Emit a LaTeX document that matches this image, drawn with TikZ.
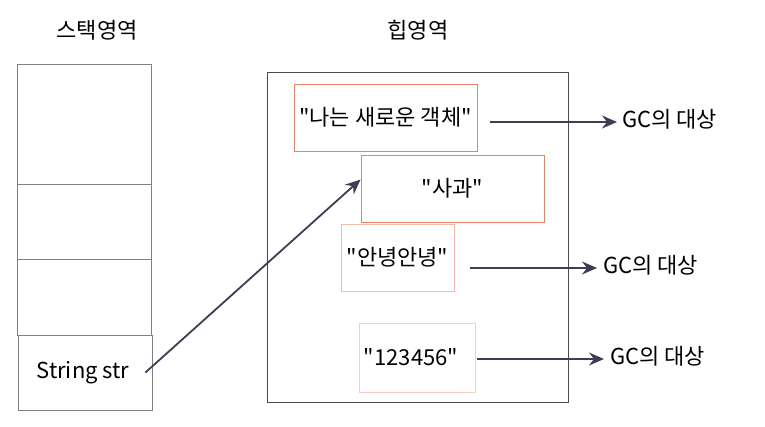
\documentclass[tikz,border=0pt]{standalone}
\usepackage{fontspec}
\newfontfamily\krfont{Noto Sans CJK KR}
\usetikzlibrary{arrows.meta}
\definecolor{objline}{HTML}{E8806C}
\definecolor{objlight}{HTML}{F5B8AA}
\definecolor{arrowcol}{HTML}{3F3D56}

\begin{document}
\begin{tikzpicture}[
    x=1pt, y=-1pt,
    font=\krfont\fontsize{22}{26}\selectfont,
    every node/.style={align=center},
    cell/.style={draw=gray, line width=0.8pt, minimum width=134, inner sep=0pt},
    obj/.style={draw=#1, line width=0.9pt, inner sep=0pt},
    gcarrow/.style={draw=arrowcol, line width=1.8pt, -{Stealth[length=15pt,width=13pt,inset=5pt]}},
    gclabel/.style={anchor=west, inner sep=0pt}
]

\useasboundingbox (0,0) rectangle (765,426);


\node (stacktitle) at (97,30) {스택영역};
\node (heaptitle) at (418,30) {힙영역};


\node[cell, minimum height=120] (cell1) at (84,124) {};
\node[cell, minimum height=75] (cell2) at (84,221.5) {};
\node[cell, minimum height=76] (cell3) at (84,297) {};
\node[cell, minimum height=75] (strvar) at (85,372.5) {String str\hspace*{4pt}};


\node[draw=black!70, line width=0.9pt, minimum width=301, minimum height=330, inner sep=0pt] (heap) at (417.5,237) {};


\node[obj=objline, minimum width=183, minimum height=67] (newobj) at (385.5,117.5) {"나는 새로운 객체"};
\node[obj=objline, minimum width=183, minimum height=67] (apple) at (452.5,188.5) {"사과"};
\node[obj=objlight, minimum width=113, minimum height=67] (hello) at (397.5,257.5) {"안녕안녕"};
\node[obj=objlight!70, minimum width=116, minimum height=69] (digits) at (417,357.5) {"123456"\hspace*{12pt}};


\node[gclabel] (gc1) at (622,119) {GC의 대상};
\node[gclabel] (gc2) at (603,265) {GC의 대상};
\node[gclabel] (gc3) at (610,356) {GC의 대상};


\draw[gcarrow] ([xshift=-7pt]strvar.east) -- ([yshift=9pt]apple.west);
\draw[gcarrow] ([xshift=13pt]newobj.east |- 0,122) -- (617,122);
\draw[gcarrow] ([xshift=16pt]hello.east |- 0,268) -- (597,268);
\draw[gcarrow] ([xshift=2pt]digits.east |- 0,359) -- (604,359);

\end{tikzpicture}
\end{document}
